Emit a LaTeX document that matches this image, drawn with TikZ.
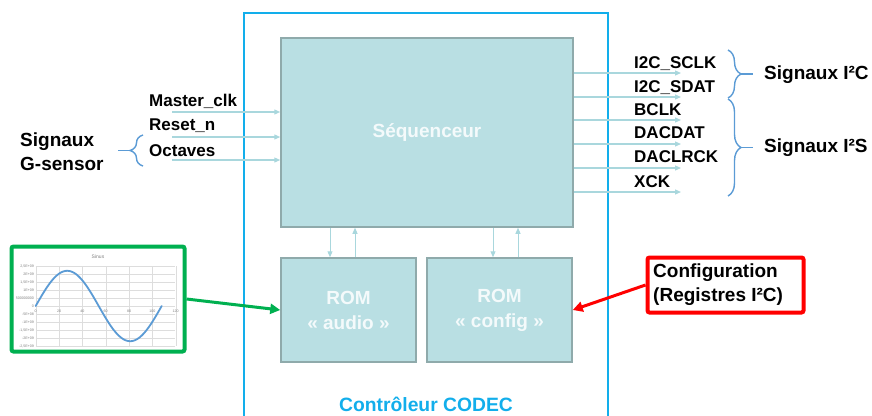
\documentclass[tikz,border=0pt]{standalone}
\usepackage{fontspec}
\setmainfont{Liberation Sans}
\usetikzlibrary{arrows.meta,decorations.pathreplacing,calc}
\definecolor{boxfill}{HTML}{B9DFE3}
\definecolor{boxline}{HTML}{8FAAAB}
\definecolor{sigline}{HTML}{A9D7DD}
\definecolor{ctrlblue}{HTML}{12AEEB}
\definecolor{bracecol}{HTML}{5B9BD5}
\definecolor{grn}{HTML}{00B050}
\definecolor{rd}{HTML}{FF0000}
\definecolor{gridc}{HTML}{DDDDDD}
\definecolor{lblgray}{HTML}{808080}
\definecolor{boxtext}{HTML}{F4FAFB}
\begin{document}
\begin{tikzpicture}[x=1pt,y=-1pt,
  blk/.style={draw=boxline,line width=1.5pt,fill=boxfill,inner sep=0pt,
    text=boxtext,font=\fontsize{19}{25}\selectfont\bfseries,align=center},
  sig/.style={draw=sigline,line width=1.2pt,-{Triangle[length=6pt,width=5pt]}},
  lbl/.style={font=\fontsize{17}{20}\selectfont\bfseries,anchor=west,inner sep=0pt},
  big/.style={font=\fontsize{19}{23.5}\selectfont\bfseries,inner sep=0pt},
  brc/.style={draw=bracecol,line width=1.4pt},
  tiny/.style={font=\fontsize{3.6}{4}\selectfont,text=lblgray,inner sep=0.5pt}]
\useasboundingbox (0,0) rectangle (872,415);

% outer controller frame
\draw[ctrlblue,line width=2pt] (244,416) -- (244,13) -- (608,13) -- (608,416);
\node[big,text=ctrlblue,font=\fontsize{19.3}{22}\selectfont\bfseries] (ctrl) at (426,404) {Contrôleur CODEC};

% blocks
\node[blk,minimum width=292pt,minimum height=189pt] (seq) at (427,132.5) {Séquenceur};
\node[blk,minimum width=135pt,minimum height=104pt] (romA) at (348.5,310) {ROM\\« audio »};
\node[blk,minimum width=145pt,minimum height=104pt] (romB) at (499.5,310) {ROM\\« config »};

% seq <-> ROM arrows
\draw[sig,line width=1pt] ([xshift=-18.5pt]romA.north |- seq.south) -- ([xshift=-18.5pt]romA.north);
\draw[sig,line width=1pt] ([xshift=6.5pt]romA.north) -- ([xshift=6.5pt]romA.north |- seq.south);
\draw[sig,line width=1pt] ([xshift=-6.5pt]romB.north |- seq.south) -- ([xshift=-6.5pt]romB.north);
\draw[sig,line width=1pt] ([xshift=18.5pt]romB.north) -- ([xshift=18.5pt]romB.north |- seq.south);

% inputs
\coordinate (i1) at (172,112);
\coordinate (i2) at (172,137);
\coordinate (i3) at (172,160);
\draw[sig] (i1) -- (seq.west |- i1);
\draw[sig] (i2) -- (seq.west |- i2);
\draw[sig] (i3) -- (seq.west |- i3);
\node[lbl] (lmc) at (149,101) {Master\_clk};
\node[lbl] (lrs) at (149,126) {Reset\_n};
\node[lbl] (loc) at (149,151) {Octaves};

% G-sensor brace
\draw[brc,decorate,decoration={brace,amplitude=13pt}] (143,166) -- (143,135);
\coordinate (gb) at (130.5,150.5);
\coordinate (gbt) at (118,150.5);
\draw[brc] (gb) -- (gbt);
\node[big,align=left,anchor=west] (gs) at (20,151.5) {Signaux\\G-sensor};

% outputs
\foreach \n/\y/\t/\ly in {1/73/I2C\_SCLK/64,2/97/I2C\_SDAT/88,3/120/BCLK/110,4/144/DACDAT/133,5/168/DACLRCK/157,6/192/XCK/182}{
  \coordinate (o\n) at (681,\y);
  \draw[sig] (seq.east |- o\n) -- (o\n);
  \node[lbl] (ol\n) at (634,\ly) {\t};
}

% output braces
\draw[brc,decorate,decoration={brace,amplitude=13pt}] (728,50) -- (728,98);
\coordinate (b1a) at (740.5,74);
\coordinate (b1b) at (753,74);
\draw[brc] (b1a) -- (b1b);
\draw[brc,decorate,decoration={brace,amplitude=13pt}] (728,99) -- (728,196);
\coordinate (b2a) at (740.5,147.5);
\coordinate (b2b) at (753,147.5);
\draw[brc] (b2a) -- (b2b);
\node[big,anchor=west] (si2c) at (764,75) {Signaux I²C};
\node[big,anchor=west] (si2s) at (764,148) {Signaux I²S};

% configuration box
\node[draw=rd,line width=4pt,rounded corners=2pt,minimum width=156pt,minimum height=55pt,
  inner sep=0pt,fill=white] (cfg) at (725.5,285) {};
\node[big,align=left,anchor=west] (cfgt) at (653,284.5) {Configuration\\(Registres I²C)};
\draw[rd,line width=3pt,-{Triangle[length=10pt,width=10pt]}] (cfg.west) -- (romB.east);

% chart
\node[draw=grn,line width=4pt,rounded corners=2pt,fill=white,minimum width=173pt,minimum height=105pt,inner sep=0pt] (chart) at (98,299) {};
\begin{scope}
  \foreach \v/\t in {2.5/{2,5E+09},2/{2E+09},1.5/{1,5E+09},1/{1E+09},0.5/{500000000},0/{0},-0.5/{-5E+08},-1/{-1E+09},-1.5/{-1,5E+09},-2/{-2E+09},-2.5/{-2,5E+09}}{
    \draw[gridc,line width=0.4pt] (35.7,{306-16*\v}) -- (174.7,{306-16*\v});
    \node[tiny,anchor=east] at (34.5,{306-16*\v}) {\t};
  }
  \foreach \k in {0,20,40,60,80,100,120}{
    \draw[gridc,line width=0.4pt] ({35.7+\k*1.16667},266) -- ({35.7+\k*1.16667},346);
    \node[tiny] at ({35.7+\k*1.16667},311) {\k};
  }
  \node[tiny,font=\fontsize{5}{6}\selectfont] at (98,256.5) {Sinus};
  \draw[bracecol,line width=1.8pt,line cap=round] plot[domain=0:108,samples=80,smooth] ({35.7+\x*1.16667},{306-35.2*sin(\x*3.33333)});
\end{scope}
\draw[grn,line width=3pt,-{Triangle[length=10pt,width=10pt]}] (chart.east) -- (romA.west);

\end{tikzpicture}
\end{document}
